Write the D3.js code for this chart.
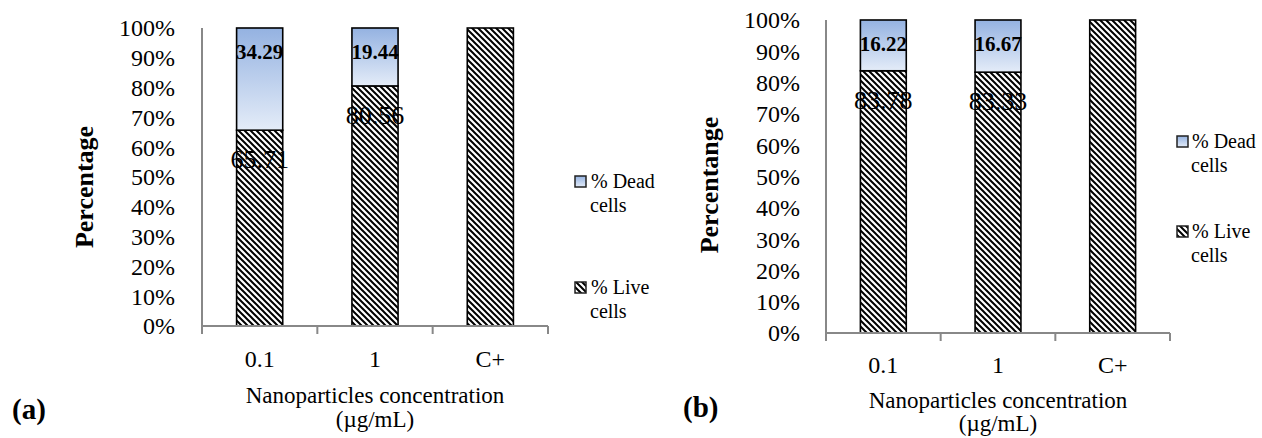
<!DOCTYPE html>
<html><head><meta charset="utf-8">
<script src="https://cdn.jsdelivr.net/npm/d3@7"></script>
<style>
html,body{margin:0;padding:0;background:#fff;}
svg{display:block;font-family:"Liberation Serif","Times New Roman",serif;}
</style></head>
<body>
<svg id="chart" width="1262" height="438"></svg>
<script>
const categories = ["0.1", "1", "C+"];
const liveA = [65.71, 80.56, 100];
const deadA = [34.29, 19.44, 0];
const liveB = [83.78, 83.33, 100];
const deadB = [16.22, 16.67, 0];
const yTicks = [0,10,20,30,40,50,60,70,80,90,100];
const seriesNames = ["% Dead cells", "% Live cells"];
const panelLabels = ["(a)", "(b)"];
const yTitles = ["Percentage", "Percentange"];
const xTitle = ["Nanoparticles concentration", "(µg/mL)"];

const svg = d3.select("#chart");
const defs = svg.append("defs");
const grad = defs.append("linearGradient").attr("id","deadGrad")
  .attr("x1",0).attr("y1",0).attr("x2",0).attr("y2",1);
grad.append("stop").attr("offset","0%").attr("stop-color","#94b2e1");
grad.append("stop").attr("offset","100%").attr("stop-color","#e4ecf8");
const pat = defs.append("pattern").attr("id","hatch").attr("patternUnits","userSpaceOnUse")
  .attr("width",6).attr("height",6);
pat.append("rect").attr("width",6).attr("height",6).attr("fill","#fff");
pat.append("path").attr("d","M-1,-1 L7,7 M-1,5 L1,7 M5,-1 L7,1")
  .attr("stroke","#000").attr("stroke-width",2);

const panels = [
  {live: liveA, dead: deadA, x0:202, x1:548, yTop:28, yBot:326, tickRight:175,
   yl:{x:84,y:187}, catBase:367, xt:[403,427], pl:{x:12,y:419},
   leg:{x:575, tx:591, dead:{sq:182, b1:188, b2:212}, live:{sq:288, b1:294, b2:318}}},
  {live: liveB, dead: deadB, x0:826, x1:1170, yTop:20, yBot:333, tickRight:800,
   yl:{x:709,y:185}, catBase:373, xt:[408,431], pl:{x:683,y:417},
   leg:{x:1177, tx:1192, dead:{sq:142, b1:148, b2:172}, live:{sq:232, b1:238, b2:262}}}
];

panels.forEach((p, pi) => {
  const g = svg.append("g");
  const x = d3.scaleBand().domain(categories).range([p.x0, p.x1]).paddingInner(0.6).paddingOuter(0.3);
  const y = d3.scaleLinear().domain([0,100]).range([p.yBot, p.yTop]);
  const step = x.step();

  g.append("g").selectAll("text").data(yTicks).join("text")
    .attr("x", p.tickRight).attr("y", d => y(d)).attr("dy","0.35em")
    .attr("text-anchor","end").attr("font-size",24).text(d => d + "%");

  const rows = categories.map((c,i) => ({cat:c, live:p.live[i], dead:p.dead[i]}));
  const stack = d3.stack().keys(["live","dead"])(rows);
  const fills = {live:"url(#hatch)", dead:"url(#deadGrad)"};
  stack.forEach(s => {
    g.append("g").selectAll("rect").data(s.filter(d => d[1]-d[0] > 0)).join("rect")
      .attr("x", d => x(d.data.cat)).attr("width", x.bandwidth())
      .attr("y", d => y(d[1])).attr("height", d => y(d[0]) - y(d[1]))
      .attr("fill", fills[s.key]).attr("stroke","#000").attr("stroke-width",1.6);
  });

  stack.forEach(s => {
    const isDead = s.key === "dead";
    g.append("g").selectAll("text").data(s.filter(d => d[1]-d[0] > 0 && d[1]-d[0] < 100)).join("text")
      .attr("x", d => x(d.data.cat) + x.bandwidth()/2)
      .attr("y", d => y(d[1]) + (isDead ? 31 : 38))
      .attr("text-anchor","middle")
      .attr("font-size", isDead ? 21 : 26)
      .attr("font-weight", isDead ? "bold" : "normal")
      .text(d => (d[1]-d[0]).toFixed(2));
  });

  g.append("line").attr("x1",p.x0).attr("x2",p.x0).attr("y1",p.yTop).attr("y2",p.yBot)
    .attr("stroke","#888").attr("stroke-width",2);
  g.append("line").attr("x1",p.x0).attr("x2",p.x1).attr("y1",p.yBot).attr("y2",p.yBot)
    .attr("stroke","#888").attr("stroke-width",2);
  const bounds = categories.map(c => x(c) - step*0.3).concat([x(categories[categories.length-1]) + x.bandwidth() + step*0.3]);
  g.append("g").selectAll("line").data(bounds).join("line")
    .attr("x1", d => d).attr("x2", d => d).attr("y1", p.yBot).attr("y2", p.yBot + 8)
    .attr("stroke","#888").attr("stroke-width",2);

  g.append("g").selectAll("text").data(categories).join("text")
    .attr("x", d => x(d) + x.bandwidth()/2).attr("y", p.catBase)
    .attr("text-anchor","middle").attr("font-size",24).text(d => d);

  const cx = (p.x0 + p.x1)/2;
  xTitle.forEach((t,i) => {
    g.append("text").attr("x", cx).attr("y", p.xt[i]).attr("text-anchor","middle")
      .attr("font-size",23).text(t);
  });

  g.append("text").attr("transform", `translate(${p.yl.x},${p.yl.y}) rotate(-90)`)
    .attr("text-anchor","middle").attr("dy","0.35em")
    .attr("font-size",26).attr("font-weight","bold").text(yTitles[pi]);

  g.append("text").attr("x", p.pl.x).attr("y", p.pl.y).attr("font-size",29)
    .attr("font-weight","bold").text(panelLabels[pi]);

  const legItems = [
    {name: seriesNames[0], fill: "url(#deadGrad)", pos: p.leg.dead},
    {name: seriesNames[1], fill: "url(#hatch)", pos: p.leg.live}
  ];
  legItems.forEach(it => {
    g.append("rect").attr("x", p.leg.x).attr("y", it.pos.sq - 6).attr("width",11).attr("height",11)
      .attr("fill", it.fill).attr("stroke","#222").attr("stroke-width",1.5);
    const parts = it.name.split(" ");
    const l1 = parts.slice(0, parts.length-1).join(" ");
    const l2 = parts[parts.length-1];
    g.append("text").attr("x", p.leg.tx).attr("y", it.pos.b1).attr("font-size",20).text(l1);
    g.append("text").attr("x", p.leg.tx - 1).attr("y", it.pos.b2).attr("font-size",20).text(l2);
  });
});
</script>
</body></html>
